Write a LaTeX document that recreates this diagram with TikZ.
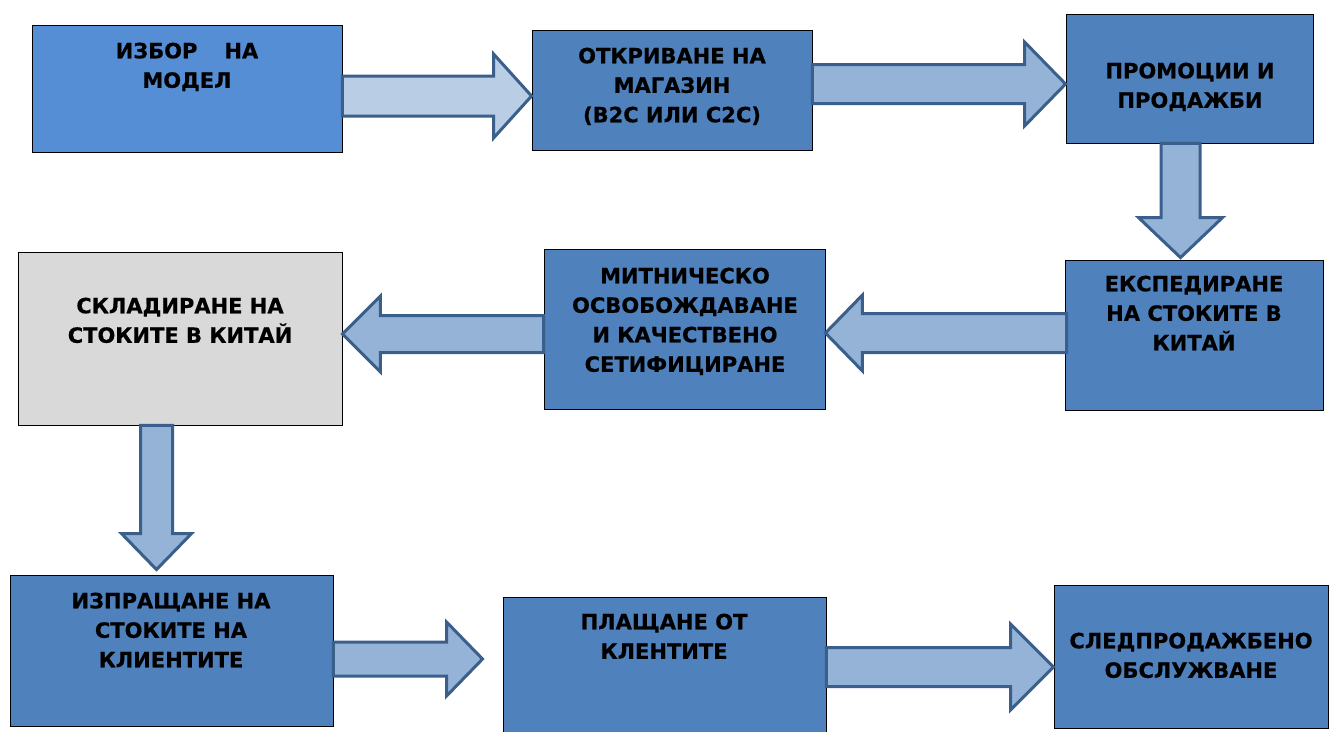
\documentclass[tikz,border=0pt]{standalone}
\usepackage{fontspec}
\setmainfont{DejaVu Sans}
\newfontfamily\boxfont[FakeBold=0.5]{DejaVu Sans Bold}
\usetikzlibrary{calc}
\definecolor{boxblue}{HTML}{4F81BD}
\definecolor{boxlight}{HTML}{558ED5}
\definecolor{boxgray}{HTML}{D9D9D9}
\definecolor{arrline}{HTML}{3A5F8B}
\definecolor{arrfill}{HTML}{95B3D7}
\definecolor{arrpale}{HTML}{B9CDE5}
\begin{document}
\begin{tikzpicture}[x=1pt,y=-1pt,
  box/.style={draw=black, line width=0.9pt, fill=boxblue, inner sep=0pt},
  txt/.style={font=\boxfont\fontsize{21}{29.5}\selectfont, align=center, inner sep=0pt, anchor=north, text=black},
  barrow/.style={draw=arrline, line width=3pt, fill=arrfill, line join=miter}]
\fill[white] (0,0) rectangle (1330,731);
\useasboundingbox (0,0) rectangle (1330,731);

% boxes
\node[box, fill=boxlight, minimum width=310pt, minimum height=127pt] (b1) at (187,88.5) {};
\node[box, minimum width=280pt, minimum height=120pt] (b2) at (672,90) {};
\node[box, minimum width=247pt, minimum height=129pt] (b3) at (1189.5,78.5) {};
\node[box, minimum width=258pt, minimum height=150pt] (b4) at (1194,335) {};
\node[box, minimum width=281pt, minimum height=160pt] (b5) at (684.5,329) {};
\node[box, fill=boxgray, minimum width=324pt, minimum height=173pt] (b6) at (180,338.5) {};
\node[box, minimum width=323pt, minimum height=151pt] (b7) at (171.5,650.5) {};
\node[box, minimum width=323pt, minimum height=138pt] (b8) at (664.5,666) {};
\node[box, minimum width=274pt, minimum height=143pt] (b9) at (1191,656.5) {};

% texts
\node[txt] (t1) at (187,42.5) {ИЗБОР\hspace{27pt}НА\\МОДЕЛ};
\node[txt] (t2) at (672,47.5) {ОТКРИВАНЕ НА\\МАГАЗИН\\(B2C ИЛИ C2C)};
\node[txt] (t3) at (1190,62.5) {ПРОМОЦИИ И\\ПРОДАЖБИ};
\node[txt] (t4) at (1194,275.5) {ЕКСПЕДИРАНЕ\\НА СТОКИТЕ В\\КИТАЙ};
\node[txt] (t5) at (685,267.5) {МИТНИЧЕСКО\\ОСВОБОЖДАВАНЕ\\И КАЧЕСТВЕНО\\СЕТИФИЦИРАНЕ};
\node[txt] (t6) at (180,297.5) {СКЛАДИРАНЕ НА\\СТОКИТЕ В КИТАЙ};
\node[txt] (t7) at (171,592.5) {ИЗПРАЩАНЕ НА\\СТОКИТЕ НА\\КЛИЕНТИТЕ};
\node[txt] (t8) at (664,613.5) {ПЛАЩАНЕ ОТ\\КЛЕНТИТЕ};
\node[txt] (t9) at (1191,632.5) {СЛЕДПРОДАЖБЕНО\\ОБСЛУЖВАНЕ};

% block arrows
\draw[barrow, fill=arrpale] let \p1=(b1.east), \p2=(b2.west) in
  (\x1,-76pt) -- (\x2-38pt,-76pt) -- (\x2-38pt,-54pt) -- (\x2,-96pt)
  -- (\x2-38pt,-138pt) -- (\x2-38pt,-116pt) -- (\x1,-116pt) -- cycle;
\draw[barrow] let \p1=(b2.east), \p2=(b3.west) in
  (\x1,-64.5pt) -- (\x2-41pt,-64.5pt) -- (\x2-41pt,-42pt) -- (\x2,-84pt)
  -- (\x2-41pt,-126pt) -- (\x2-41pt,-103.5pt) -- (\x1,-103.5pt) -- cycle;
\draw[barrow] let \p1=(b3.south), \p2=(b4.north) in
  (1161pt,\y1) -- (1161pt,\y2+42pt) -- (1138.5pt,\y2+42pt) -- (1180.5pt,\y2+2pt)
  -- (1222.5pt,\y2+42pt) -- (1200pt,\y2+42pt) -- (1200pt,\y1) -- cycle;
\draw[barrow] let \p1=(b4.west), \p2=(b5.east) in
  (\x1+2pt,-313.5pt) -- (\x2+37pt,-313.5pt) -- (\x2+37pt,-295pt) -- (\x2,-333pt)
  -- (\x2+37pt,-371pt) -- (\x2+37pt,-352.5pt) -- (\x1+2pt,-352.5pt) -- cycle;
\draw[barrow] let \p1=(b5.west), \p2=(b6.east) in
  (\x1,-315.5pt) -- (\x2+38pt,-315.5pt) -- (\x2+38pt,-296pt) -- (\x2,-334pt)
  -- (\x2+38pt,-372pt) -- (\x2+38pt,-352.5pt) -- (\x1,-352.5pt) -- cycle;
\draw[barrow] let \p1=(b6.south), \p2=(b7.north) in
  (140.5pt,\y1) -- (140.5pt,\y2+41pt) -- (121.5pt,\y2+41pt) -- (156.5pt,\y2+5pt)
  -- (191.5pt,\y2+41pt) -- (172.5pt,\y2+41pt) -- (172.5pt,\y1) -- cycle;
\draw[barrow] let \p1=(b7.east), \p2=(b8.west) in
  (\x1,-642pt) -- (\x2-56pt,-642pt) -- (\x2-56pt,-622pt) -- (\x2-20pt,-659pt)
  -- (\x2-56pt,-696pt) -- (\x2-56pt,-676pt) -- (\x1,-676pt) -- cycle;
\draw[barrow] let \p1=(b8.east), \p2=(b9.west) in
  (\x1,-647.5pt) -- (\x2-43pt,-647.5pt) -- (\x2-43pt,-624pt) -- (\x2,-667pt)
  -- (\x2-43pt,-710pt) -- (\x2-43pt,-686.5pt) -- (\x1,-686.5pt) -- cycle;
\end{tikzpicture}
\end{document}
